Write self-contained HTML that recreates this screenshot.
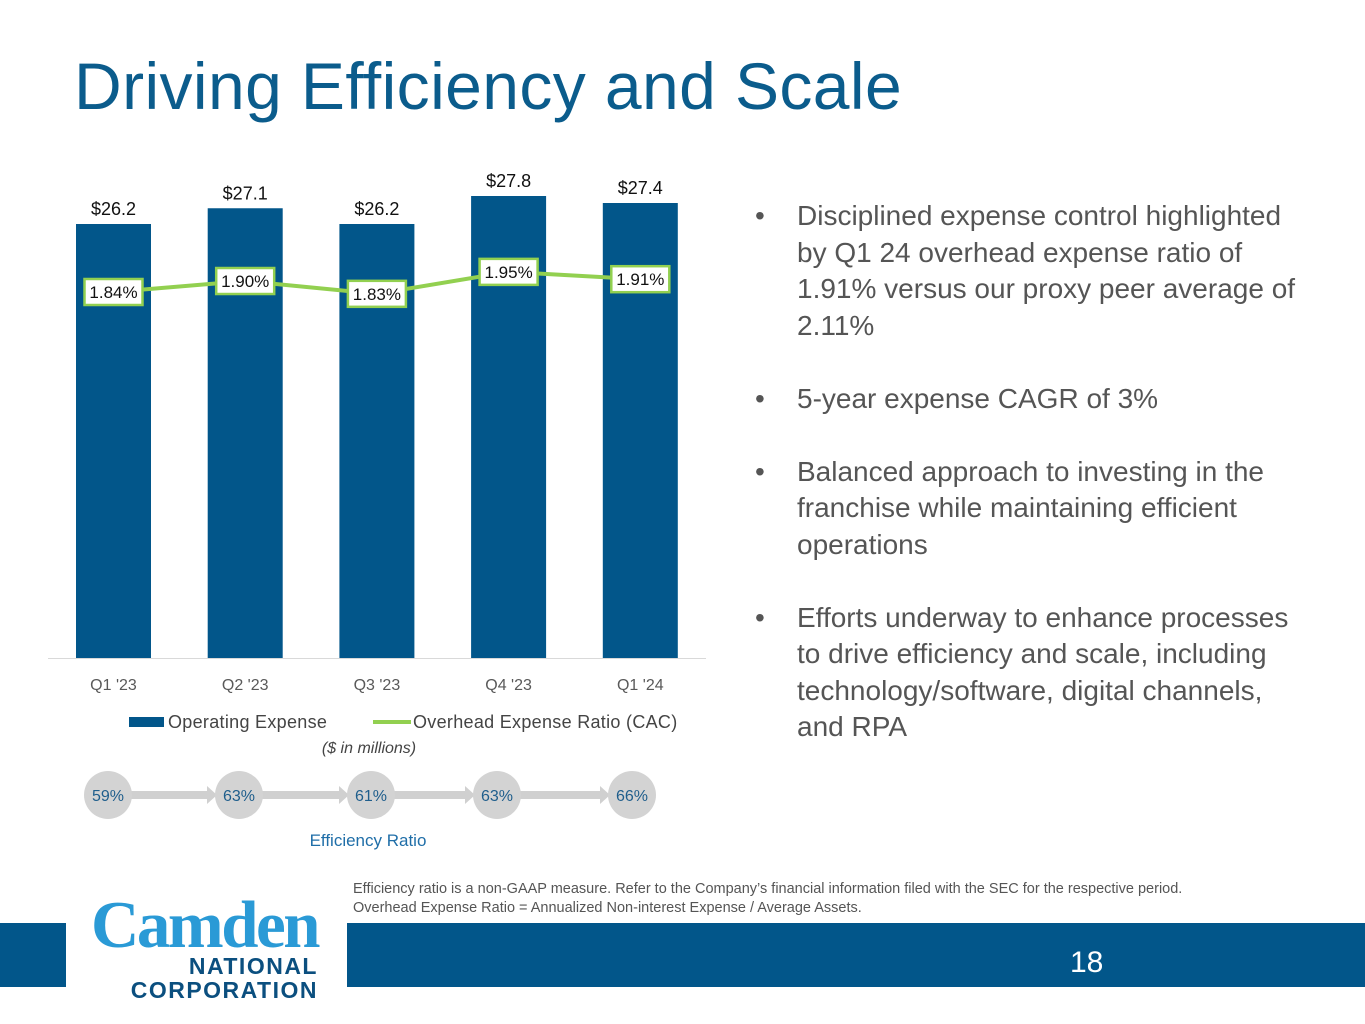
<!DOCTYPE html>
<html><head><meta charset="utf-8"><style>
body{margin:0;width:1365px;height:1024px;background:#fff;position:relative;overflow:hidden;font-family:"Liberation Sans",sans-serif}
.abs{position:absolute}
h1{position:absolute;left:74px;top:48px;margin:0;font-size:66px;font-weight:normal;color:#0b5c8c;letter-spacing:0.4px}
ul{position:absolute;left:755px;top:198px;width:560px;margin:0;padding:0;list-style:none;color:#555;font-size:28px;line-height:36.5px}
li{position:relative;padding-left:42px;margin-bottom:36.5px}
li:before{content:"•";position:absolute;left:0;top:0}
</style></head><body>
<h1>Driving Efficiency and Scale</h1>
<svg class="abs" style="left:0;top:0" width="1365" height="1024">
<g id="g"></g>
</svg>
<ul>
<li>Disciplined expense control highlighted by Q1 24 overhead expense ratio of 1.91% versus our proxy peer average of 2.11%</li>
<li>5-year expense CAGR of 3%</li>
<li>Balanced approach to investing in the franchise while maintaining efficient operations</li>
<li>Efforts underway to enhance processes to drive efficiency and scale, including technology/software, digital channels, and RPA</li>
</ul>
<div class="abs" style="left:353px;top:880px;font-size:14.5px;color:#555;line-height:19px">Efficiency ratio is a non-GAAP measure. Refer to the Company’s financial information filed with the SEC for the respective period.<br>Overhead Expense Ratio = Annualized Non-interest Expense / Average Assets.</div>
<div class="abs" style="left:0;top:923px;width:66px;height:64px;background:#02568a"></div>
<div class="abs" style="left:347px;top:923px;width:1018px;height:64px;background:#02568a"></div>
<div class="abs" style="left:1070px;top:946px;font-size:30px;color:#fff">18</div>
<div class="abs" style="left:80px;top:892px;width:238px;text-align:right;font-family:'Liberation Serif',serif;font-size:67px;color:#2a9ad6;letter-spacing:-2.5px;line-height:67px;font-weight:bold">Camden</div>
<div class="abs" style="left:100px;top:954px;width:218px;text-align:right;font-size:23px;font-weight:bold;color:#0b4f7f;line-height:24px;letter-spacing:1.5px">NATIONAL<br>CORPORATION</div>
<script>
const categories=["Q1 '23","Q2 '23","Q3 '23","Q4 '23","Q1 '24"];
const opex=[26.2,27.1,26.2,27.8,27.4];
const opexLabels=["$26.2","$27.1","$26.2","$27.8","$27.4"];
const ratio=[1.84,1.90,1.83,1.95,1.91];
const ratioLabels=["1.84%","1.90%","1.83%","1.95%","1.91%"];
const effRatio=["59%","63%","61%","63%","66%"];
const NS="http://www.w3.org/2000/svg",g=document.getElementById('g');
function mk(t,a,txt){const e=document.createElementNS(NS,t);for(const k in a)e.setAttribute(k,a[k]);if(txt!=null)e.textContent=txt;g.appendChild(e);return e;}
const xC=i=>113.5+i*131.7;
const yB=v=>658-(v-1.4)*17.5;
const yL=v=>292-(v-1.84)*183;
mk('line',{x1:48,x2:706,y1:658.5,y2:658.5,stroke:'#d9d9d9'});
categories.forEach((c,i)=>{
 const r=mk('rect',{x:xC(i)-37.5,y:yB(opex[i]),width:75,height:658-yB(opex[i]),fill:'#02568a'});
 
 const t=mk('text',{x:xC(i),y:yB(opex[i])-9,'text-anchor':'middle','font-size':18,fill:'#111'},opexLabels[i]);
 
 const tl=mk('text',{x:xC(i),y:690,'text-anchor':'middle','font-size':16,fill:'#595959'},c);
 
});
const pl=mk('polyline',{points:ratio.map((v,i)=>xC(i)+','+yL(v)).join(' '),fill:'none',stroke:'#92d050','stroke-width':4});

ratio.forEach((v,i)=>{
 const b=mk('rect',{x:xC(i)-29,y:yL(v)-13,width:58,height:26,fill:'#fff',stroke:'#92d050','stroke-width':2.5});
 
 const t=mk('text',{x:xC(i),y:yL(v)+6,'text-anchor':'middle','font-size':17,fill:'#111'},ratioLabels[i]);
 
});
let e=mk('rect',{x:129,y:717,width:35,height:10,fill:'#02568a'});
e=mk('text',{x:168,y:728,'font-size':18,'letter-spacing':0.3,fill:'#444'},'Operating Expense');
e=mk('line',{x1:373,x2:411,y1:722,y2:722,stroke:'#92d050','stroke-width':4});
e=mk('text',{x:413,y:728,'font-size':18,'letter-spacing':0.3,fill:'#444'},'Overhead Expense Ratio (CAC)');
e=mk('text',{x:369,y:753,'text-anchor':'middle','font-size':16,'font-style':'italic',fill:'#444'},'($ in millions)');
const cx=[108,239,371,497,632];
effRatio.forEach((r,i)=>{
 if(i<4){
  const a=mk('rect',{x:cx[i]+20,y:791,width:cx[i+1]-cx[i]-50,height:8,fill:'#d0d0d0'});
  const h=mk('polygon',{points:`${cx[i+1]-32},786 ${cx[i+1]-22},795 ${cx[i+1]-32},804`,fill:'#d0d0d0'});
 }
 const c=mk('ellipse',{cx:cx[i],cy:795,rx:24,ry:24,fill:'#d3d3d3'});
 const t=mk('text',{x:cx[i],y:801,'text-anchor':'middle','font-size':16,fill:'#1f5e8c'},r);
});
e=mk('text',{x:368,y:846,'text-anchor':'middle','font-size':17,fill:'#1f6ea8'},'Efficiency Ratio');
</script>
</body></html>
